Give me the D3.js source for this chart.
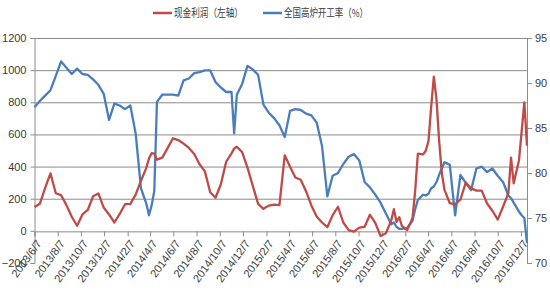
<!DOCTYPE html>
<html><head><meta charset="utf-8">
<script src="https://cdn.jsdelivr.net/npm/d3@7"></script>
<style>body{margin:0;background:#fff}svg{display:block}</style>
</head><body><svg id="c" width="550" height="300"></svg>
<script>
// ---- data ----
const dates = ["2013-06-07","2013-06-21","2013-07-05","2013-07-19","2013-08-02","2013-08-16","2013-08-30","2013-09-13","2013-09-27","2013-10-11","2013-10-25","2013-11-08","2013-11-22","2013-12-06","2013-12-20",
"2014-01-03","2014-01-17","2014-01-31","2014-02-14","2014-02-28","2014-03-14","2014-03-28","2014-04-04","2014-04-11","2014-04-18","2014-04-25","2014-05-09","2014-05-23","2014-06-06","2014-06-20","2014-07-04","2014-07-18","2014-08-01","2014-08-15","2014-08-29","2014-09-12","2014-09-26","2014-10-10","2014-10-24","2014-11-07","2014-11-14","2014-11-21","2014-12-05","2014-12-19",
"2015-01-02","2015-01-16","2015-01-30","2015-02-13","2015-02-27","2015-03-13","2015-03-27","2015-04-10","2015-04-24","2015-05-08","2015-05-22","2015-06-05","2015-06-19","2015-07-03","2015-07-17","2015-07-31","2015-08-14","2015-08-28","2015-09-11","2015-09-25","2015-10-09","2015-10-23","2015-11-06","2015-11-20","2015-12-04","2015-12-18",
"2016-01-01","2016-01-08","2016-01-15","2016-01-22","2016-01-29","2016-02-12","2016-02-26","2016-03-04","2016-03-11","2016-03-25","2016-04-01","2016-04-08","2016-04-15","2016-04-22","2016-04-29","2016-05-06","2016-05-13","2016-05-20","2016-06-03","2016-06-17","2016-07-01","2016-07-15","2016-07-29","2016-08-12","2016-08-26","2016-09-09","2016-09-23","2016-10-07","2016-10-21","2016-11-04","2016-11-11","2016-11-18","2016-12-02","2016-12-09","2016-12-16","2016-12-23"];
const profit = [148,168,268,358,234,222,160,88,32,102,130,215,233,145,102,
52,105,166,168,225,312,392,450,483,480,443,456,515,576,565,543,516,478,415,370,240,206,290,430,482,512,523,490,393,
280,168,137,157,163,160,470,399,332,318,247,158,90,52,23,98,150,52,5,-5,20,25,100,50,-32,-15,
65,135,55,85,30,5,80,250,480,476,500,560,770,960,820,560,360,255,172,165,195,300,264,250,250,170,125,70,150,235,455,296,440,620,800,530];
const rate = [87.3,88.0,88.6,89.2,90.8,92.4,91.7,91.0,91.6,91.0,90.9,90.4,89.8,88.8,85.9,
87.7,87.5,87.1,87.5,84.4,78.3,76.6,75.3,76.4,78.0,87.9,88.7,88.7,88.7,88.6,90.3,90.5,91.1,91.2,91.4,91.4,90.1,89.5,89.0,89.0,84.4,88.7,89.9,91.9,
91.5,90.9,87.6,86.7,86.1,85.3,84.0,86.9,87.1,87.0,86.6,86.4,85.6,83.0,77.4,79.7,80.0,81.0,81.8,82.1,81.4,79.0,78.4,77.6,76.7,75.5,
74.3,74.5,74.0,73.8,73.8,73.9,74.7,76.0,77.0,77.6,77.5,77.7,78.3,78.5,79.0,79.8,80.5,81.2,80.9,75.3,79.8,78.9,78.1,80.5,80.7,80.1,80.5,79.7,79.0,77.5,77.2,76.7,75.7,75.3,75.0,72.2];
const leftTicks = [-200,0,200,400,600,800,1000,1200];
const rightTicks = [70,75,80,85,90,95];
const xTickLabels = ["2013/6/7","2013/8/7","2013/10/7","2013/12/7","2014/2/7","2014/4/7","2014/6/7","2014/8/7","2014/10/7","2014/12/7","2015/2/7","2015/4/7","2015/6/7","2015/8/7","2015/10/7","2015/12/7","2016/2/7","2016/4/7","2016/6/7","2016/8/7","2016/10/7","2016/12/7"];
const seriesNames = ["现金利润（左轴）","全国高炉开工率（%）"];
const colors = ["#BE4B48","#4A7EBB"];

// ---- chart ----
const parse = d3.timeParse("%Y-%m-%d");
const parseLbl = d3.timeParse("%Y/%m/%d");
const svg = d3.select("#c");
const L = 34.5, R = 527, T = 38, B = 263;
const x = d3.scaleTime().domain([parse("2013-06-07"), parse("2016-12-23")]).range([L, R]);
const yL = d3.scaleLinear().domain([-200,1200]).range([B, T]);
const yR = d3.scaleLinear().domain([70,95]).range([B, T]);
const font = "'Liberation Sans', Arial, sans-serif";
const gridC = "#8c8c8c", textC = "#3a3a3a";

// gridlines
svg.append("g").selectAll("line").data(leftTicks.filter(t => t > 0)).join("line")
  .attr("x1", L).attr("x2", R).attr("y1", d => yL(d) + 0.5).attr("y2", d => yL(d) + 0.5)
  .attr("stroke", gridC).attr("stroke-width", 1);

// left axis
const gl = svg.append("g").attr("transform", `translate(${L},0)`)
  .call(d3.axisLeft(yL).tickValues(leftTicks).tickFormat(d3.format("d")).tickSize(4).tickPadding(4));
// right axis
const gr = svg.append("g").attr("transform", `translate(${R},0)`)
  .call(d3.axisRight(yR).tickValues(rightTicks).tickFormat(d3.format("d")).tickSize(5).tickPadding(3));
[gl, gr].forEach(g => {
  g.select(".domain").attr("stroke", gridC);
  g.selectAll(".tick line").attr("stroke", gridC);
  g.selectAll("text").attr("fill", textC).style("font-family", font).style("font-size", "11px");
});

// x axis at zero
const xt = xTickLabels.map(s => parseLbl(s));
const gx = svg.append("g").attr("transform", `translate(0,${yL(0) + 0.5})`)
  .call(d3.axisBottom(x).tickValues(xt).tickFormat((d, i) => xTickLabels[i]).tickSize(5));
gx.select(".domain").attr("stroke", gridC);
gx.selectAll(".tick line").attr("stroke", gridC);
gx.selectAll("text")
  .attr("fill", textC).style("font-family", font).style("font-size", "11px")
  .attr("text-anchor", "end").attr("x", 0).attr("y", 0).attr("dy", "0.35em")
  .attr("transform", "translate(4,10) rotate(-54)");

// lines
const pts = dates.map((d, i) => ({ d: parse(d), p: profit[i], r: rate[i] }));
const lineP = d3.line().x(d => x(d.d)).y(d => yL(d.p));
const lineR = d3.line().x(d => x(d.d)).y(d => yR(d.r));
svg.append("path").datum(pts).attr("d", lineR).attr("fill", "none")
  .attr("stroke", colors[1]).attr("stroke-width", 2.3).attr("stroke-linejoin", "round");
svg.append("path").datum(pts).attr("d", lineP).attr("fill", "none")
  .attr("stroke", colors[0]).attr("stroke-width", 2.3).attr("stroke-linejoin", "round");

// legend
const leg = [{x: 153, w: 69}, {x: 263, w: 84}];
seriesNames.forEach((n, i) => {
  const g = svg.append("g").attr("transform", `translate(${leg[i].x},13)`);
  g.append("line").attr("x1", 0).attr("x2", 19).attr("y1", 0).attr("y2", 0)
    .attr("stroke", colors[i]).attr("stroke-width", 2.5);
  g.append("text").attr("x", 21).attr("y", 0).attr("dy", "0.35em")
    .attr("textLength", leg[i].w).attr("lengthAdjust", "spacingAndGlyphs")
    .style("font-family", "'Noto Sans CJK SC', sans-serif").style("font-size", "11px")
    .attr("fill", textC).text(n);
});
</script></body></html>
